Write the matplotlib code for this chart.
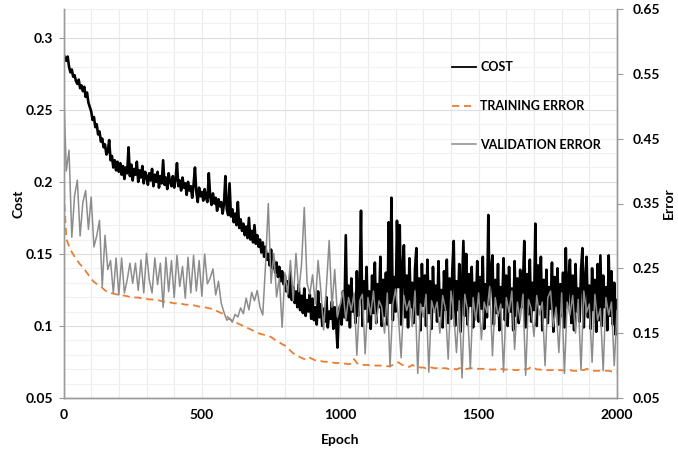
import numpy as np
import matplotlib
matplotlib.use("Agg")
import matplotlib.pyplot as plt
from matplotlib.ticker import MultipleLocator, FixedLocator

plt.rcParams['font.family'] = ['Lato', 'DejaVu Sans']
plt.rcParams['font.weight'] = 'bold'

# cost is logged every 5 epochs, errors every 10 epochs
cost_epochs = np.arange(0, 2001, 5)
error_epochs = np.arange(0, 2001, 10)

# cost (left axis) (100 epochs per row)
cost = [
    0.289, 0.286, 0.284, 0.287, 0.280, 0.276, 0.278, 0.273, 0.274, 0.270, 0.268, 0.271, 0.265, 0.267, 0.263, 0.266, 0.259, 0.262, 0.255, 0.252,
    0.249, 0.243, 0.245, 0.238, 0.240, 0.233, 0.235, 0.228, 0.230, 0.224, 0.226, 0.219, 0.221, 0.229, 0.215, 0.218, 0.210, 0.215, 0.208, 0.214,
    0.207, 0.213, 0.205, 0.211, 0.202, 0.210, 0.206, 0.224, 0.204, 0.212, 0.201, 0.209, 0.205, 0.214, 0.200, 0.208, 0.203, 0.211, 0.199, 0.207,
    0.204, 0.198, 0.206, 0.201, 0.209, 0.197, 0.205, 0.200, 0.207, 0.196, 0.204, 0.199, 0.215, 0.198, 0.203, 0.195, 0.206, 0.200, 0.197, 0.204,
    0.196, 0.202, 0.213, 0.197, 0.201, 0.194, 0.203, 0.196, 0.199, 0.191, 0.200, 0.194, 0.197, 0.189, 0.198, 0.210, 0.193, 0.186, 0.196, 0.190,
    0.193, 0.187, 0.195, 0.189, 0.186, 0.206, 0.190, 0.184, 0.192, 0.185, 0.189, 0.180, 0.188, 0.183, 0.186, 0.178, 0.185, 0.204, 0.181, 0.177,
    0.199, 0.176, 0.181, 0.172, 0.178, 0.170, 0.186, 0.168, 0.174, 0.166, 0.171, 0.163, 0.169, 0.161, 0.175, 0.160, 0.166, 0.158, 0.170, 0.157,
    0.163, 0.155, 0.160, 0.151, 0.158, 0.148, 0.155, 0.146, 0.150, 0.142, 0.153, 0.140, 0.146, 0.137, 0.144, 0.134, 0.141, 0.131, 0.138, 0.129,
    0.135, 0.124, 0.131, 0.120, 0.138, 0.118, 0.127, 0.116, 0.124, 0.113, 0.129, 0.111, 0.121, 0.109, 0.126, 0.107, 0.118, 0.110, 0.122, 0.105,
    0.119, 0.104, 0.113, 0.101, 0.124, 0.106, 0.115, 0.100, 0.112, 0.103, 0.120, 0.099, 0.110, 0.105, 0.117, 0.098, 0.113, 0.102, 0.085, 0.111,
    0.114, 0.101, 0.124, 0.106, 0.163, 0.104, 0.128, 0.099, 0.133, 0.110, 0.121, 0.102, 0.138, 0.107, 0.125, 0.180, 0.100, 0.131, 0.112, 0.141,
    0.103, 0.124, 0.098, 0.135, 0.109, 0.144, 0.102, 0.129, 0.113, 0.148, 0.100, 0.132, 0.107, 0.137, 0.101, 0.172, 0.116, 0.189, 0.104, 0.134,
    0.110, 0.173, 0.127, 0.170, 0.101, 0.141, 0.156, 0.106, 0.135, 0.099, 0.147, 0.113, 0.130, 0.102, 0.139, 0.154, 0.108, 0.133, 0.097, 0.143,
    0.114, 0.135, 0.100, 0.146, 0.109, 0.131, 0.098, 0.141, 0.112, 0.128, 0.103, 0.145, 0.107, 0.125, 0.099, 0.138, 0.111, 0.146, 0.102, 0.133,
    0.105, 0.139, 0.159, 0.100, 0.131, 0.111, 0.143, 0.096, 0.128, 0.159, 0.107, 0.150, 0.101, 0.136, 0.114, 0.141, 0.099, 0.130, 0.109, 0.145,
    0.103, 0.134, 0.112, 0.148, 0.098, 0.129, 0.106, 0.177, 0.115, 0.138, 0.149, 0.101, 0.132, 0.109, 0.143, 0.097, 0.127, 0.113, 0.147, 0.104,
    0.135, 0.100, 0.141, 0.110, 0.126, 0.097, 0.145, 0.107, 0.133, 0.102, 0.139, 0.113, 0.128, 0.159, 0.099, 0.136, 0.108, 0.146, 0.103, 0.130,
    0.111, 0.171, 0.100, 0.142, 0.115, 0.148, 0.097, 0.132, 0.106, 0.139, 0.102, 0.127, 0.112, 0.144, 0.096, 0.134, 0.109, 0.140, 0.101, 0.129,
    0.107, 0.137, 0.099, 0.154, 0.113, 0.131, 0.146, 0.102, 0.135, 0.097, 0.143, 0.110, 0.126, 0.103, 0.139, 0.154, 0.099, 0.133, 0.148, 0.106,
    0.128, 0.098, 0.140, 0.111, 0.132, 0.096, 0.143, 0.104, 0.149, 0.100, 0.135, 0.113, 0.127, 0.097, 0.149, 0.107, 0.138, 0.101, 0.130, 0.094,
    0.118,
]

# training error (right axis)
training_error = [
    0.386, 0.296, 0.284, 0.275, 0.268, 0.262, 0.256, 0.252, 0.246, 0.240,
    0.234, 0.229, 0.226, 0.223, 0.220, 0.216, 0.213, 0.212, 0.211, 0.210,
    0.209, 0.208, 0.208, 0.207, 0.206, 0.206, 0.205, 0.205, 0.204, 0.204,
    0.203, 0.202, 0.202, 0.201, 0.201, 0.200, 0.199, 0.198, 0.198, 0.197,
    0.196, 0.196, 0.195, 0.195, 0.194, 0.194, 0.193, 0.193, 0.192, 0.191,
    0.191, 0.190, 0.189, 0.188, 0.187, 0.185, 0.183, 0.181, 0.179, 0.176,
    0.172, 0.169, 0.167, 0.165, 0.163, 0.161, 0.159, 0.157, 0.155, 0.153,
    0.151, 0.149, 0.148, 0.147, 0.146, 0.144, 0.141, 0.138, 0.136, 0.133,
    0.131, 0.127, 0.123, 0.119, 0.116, 0.114, 0.112, 0.110, 0.109, 0.112,
    0.110, 0.108, 0.107, 0.107, 0.106, 0.106, 0.105, 0.105, 0.104, 0.104,
    0.104, 0.103, 0.103, 0.102, 0.103, 0.110, 0.104, 0.101, 0.101, 0.101,
    0.101, 0.100, 0.100, 0.100, 0.100, 0.100, 0.099, 0.099, 0.099, 0.101,
    0.104, 0.105, 0.102, 0.100, 0.099, 0.098, 0.101, 0.099, 0.098, 0.097,
    0.097, 0.096, 0.098, 0.097, 0.096, 0.096, 0.095, 0.096, 0.096, 0.095,
    0.095, 0.095, 0.094, 0.096, 0.096, 0.095, 0.095, 0.096, 0.096, 0.095,
    0.095, 0.095, 0.095, 0.094, 0.094, 0.094, 0.094, 0.096, 0.095, 0.094,
    0.094, 0.094, 0.094, 0.093, 0.093, 0.094, 0.095, 0.094, 0.095, 0.098,
    0.097, 0.094, 0.094, 0.093, 0.093, 0.093, 0.093, 0.093, 0.092, 0.093,
    0.093, 0.092, 0.092, 0.093, 0.092, 0.092, 0.092, 0.093, 0.093, 0.095,
    0.093, 0.092, 0.092, 0.092, 0.092, 0.092, 0.092, 0.092, 0.091, 0.091,
    0.090,
]

# validation error (right axis)
validation_error = [
    0.535, 0.400, 0.432, 0.298, 0.362, 0.386, 0.300, 0.352, 0.370, 0.310,
    0.360, 0.283, 0.300, 0.324, 0.222, 0.301, 0.248, 0.262, 0.212, 0.266,
    0.209, 0.266, 0.212, 0.232, 0.258, 0.227, 0.258, 0.216, 0.263, 0.212,
    0.273, 0.232, 0.212, 0.266, 0.225, 0.258, 0.190, 0.267, 0.214, 0.262,
    0.205, 0.270, 0.222, 0.253, 0.204, 0.267, 0.212, 0.270, 0.215, 0.262,
    0.207, 0.272, 0.226, 0.235, 0.249, 0.209, 0.230, 0.196, 0.182, 0.170,
    0.173, 0.167, 0.179, 0.175, 0.189, 0.180, 0.204, 0.186, 0.213, 0.200,
    0.216, 0.190, 0.178, 0.255, 0.350, 0.227, 0.273, 0.206, 0.235, 0.159,
    0.243, 0.210, 0.262, 0.200, 0.273, 0.214, 0.255, 0.344, 0.228, 0.210,
    0.240, 0.195, 0.262, 0.215, 0.155, 0.222, 0.293, 0.190, 0.248, 0.175,
    0.195, 0.215, 0.170, 0.205, 0.185, 0.212, 0.116, 0.200, 0.210, 0.118,
    0.205, 0.178, 0.215, 0.165, 0.200, 0.190, 0.150, 0.212, 0.098, 0.195,
    0.218, 0.175, 0.112, 0.208, 0.185, 0.200, 0.160, 0.215, 0.088, 0.195,
    0.175, 0.210, 0.090, 0.200, 0.182, 0.198, 0.150, 0.208, 0.188, 0.110,
    0.215, 0.180, 0.120, 0.200, 0.081, 0.210, 0.186, 0.095, 0.205, 0.170,
    0.212, 0.140, 0.198, 0.182, 0.222, 0.115, 0.205, 0.176, 0.195, 0.090,
    0.205, 0.182, 0.215, 0.125, 0.198, 0.170, 0.210, 0.085, 0.202, 0.188,
    0.145, 0.208, 0.178, 0.198, 0.100, 0.205, 0.215, 0.160, 0.190, 0.120,
    0.212, 0.088, 0.198, 0.178, 0.208, 0.150, 0.202, 0.093, 0.215, 0.182,
    0.195, 0.105, 0.210, 0.170, 0.188, 0.092, 0.205, 0.178, 0.198, 0.100,
    0.185,
]

axis_grey = '#9a9a9a'

fig = plt.figure(figsize=(6.78, 4.51), dpi=100)
ax = fig.add_axes([63.5 / 678, 53 / 451, (617 - 63.5) / 678, (398 - 9) / 451])
ax2 = ax.twinx()

# cost on the left axis
cost_line, = ax.plot(cost_epochs, cost, color='black', lw=1.9, label='COST', zorder=3)

# errors on the right axis
train_line, = ax2.plot(error_epochs, training_error, color='#ED7D31', lw=1.3,
                       dashes=(4, 2.6), label='TRAINING ERROR')
val_line, = ax2.plot(error_epochs, validation_error, color='#8c8c8c', lw=1.1,
                     label='VALIDATION ERROR')

ax.set_xlim(0, 2000)
ax.set_ylim(0.05, 0.32)
ax2.set_ylim(0.05, 0.65)

ax.xaxis.set_major_locator(MultipleLocator(500))
ax.xaxis.set_minor_locator(MultipleLocator(100))
ax.yaxis.set_major_locator(FixedLocator([0.05, 0.1, 0.15, 0.2, 0.25, 0.3]))
ax.yaxis.set_minor_locator(MultipleLocator(0.01))
ax.set_yticklabels(['0.05', '0.1', '0.15', '0.2', '0.25', '0.3'])
ax2.yaxis.set_major_locator(FixedLocator([0.05, 0.15, 0.25, 0.35, 0.45, 0.55, 0.65]))

# grid
ax.set_axisbelow(True)
ax.grid(which='major', axis='y', color='#dedede', lw=0.8)
ax.grid(which='minor', axis='y', color='#f1f1f1', lw=0.8)
ax.grid(which='minor', axis='x', color='#ececec', lw=0.8)
ax.grid(which='major', axis='x', color='#ececec', lw=0.8)

for a in (ax, ax2):
    a.spines['top'].set_visible(False)
    for s in ('left', 'right', 'bottom'):
        a.spines[s].set_color(axis_grey)
        a.spines[s].set_linewidth(1.0)

ax.tick_params(axis='x', which='both', length=0, pad=8, labelsize=10)
ax.tick_params(axis='y', which='major', length=3.5, color=axis_grey, pad=4, labelsize=10)
ax.tick_params(axis='y', which='minor', length=0)
ax2.tick_params(axis='y', length=4, color=axis_grey, pad=7, labelsize=10)

ax.set_xlabel('Epoch', fontsize=10, fontweight='bold')
ax.set_ylabel('Cost', fontsize=10, fontweight='bold')
ax2.set_ylabel('Error', fontsize=10, fontweight='bold')
ax.xaxis.set_label_coords(0.5, -0.092)
ax.yaxis.set_label_coords(-0.071, 0.5)
ax2.yaxis.set_label_coords(1.082, 0.5)

leg = ax2.legend(handles=[cost_line, train_line, val_line], loc='upper left',
                 bbox_to_anchor=(452 / 678, 1 - 61 / 451), bbox_transform=fig.transFigure,
                 frameon=False, fontsize=9, labelspacing=2.15, handlelength=1.9,
                 handletextpad=0.35, borderpad=0, borderaxespad=0)
leg.get_lines()[0].set_linewidth(1.3)

fig.savefig('out.png', dpi=100)
